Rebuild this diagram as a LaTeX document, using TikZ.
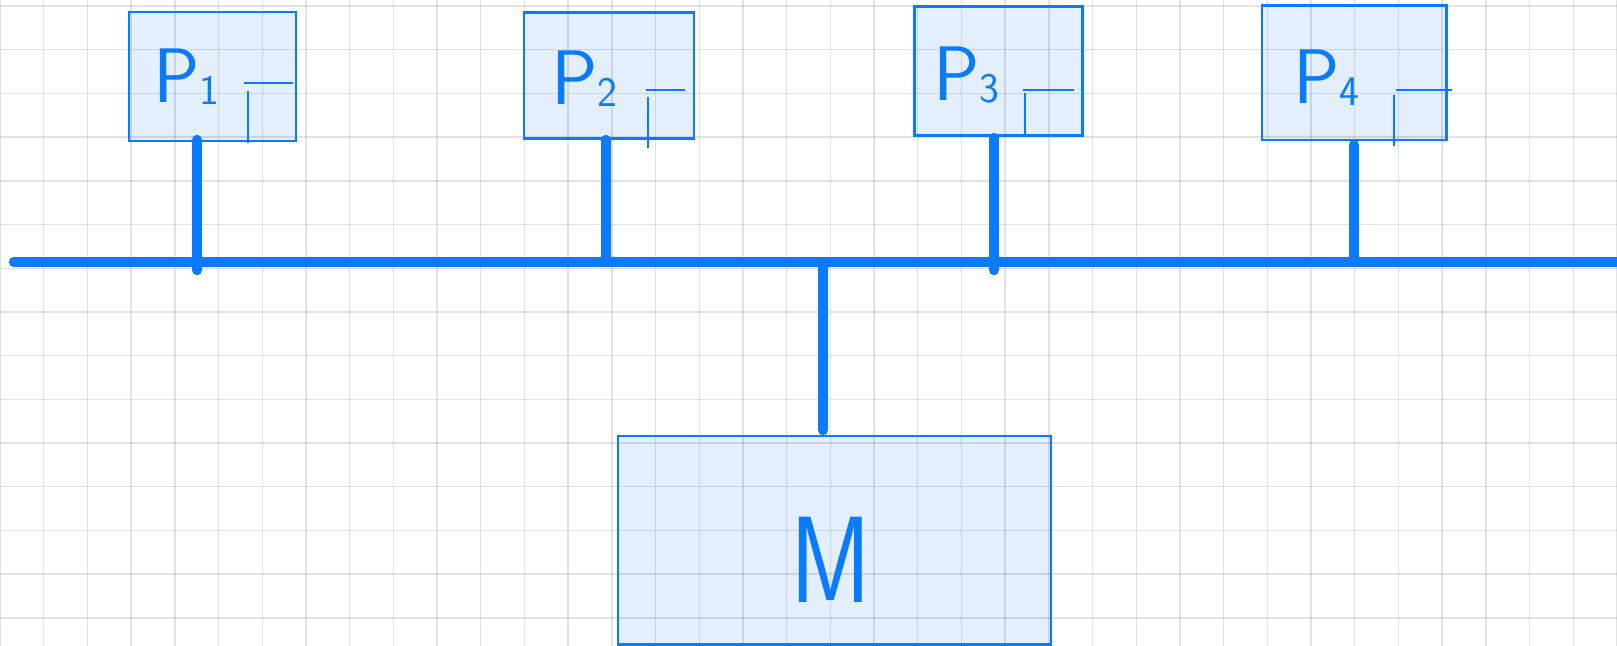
\documentclass[tikz,border=0pt]{standalone}
\usepackage{fontspec}
\definecolor{ink}{HTML}{0A7BFF}
\definecolor{cell}{HTML}{E3EFFD}
\newcommand\lblsub[1]{{\fontsize{24}{24}\selectfont\raisebox{-0.05cm}{#1}}}
\begin{document}
\begin{tikzpicture}[x=0.02cm,y=-0.02cm,
  wire/.style={draw=ink, line width=0.21cm, line cap=round},
  unitfill/.style={fill=cell, draw=none, rectangle, inner sep=0pt},
  border/.style={draw=ink, line width=0.045cm},
  tickmark/.style={draw=ink, line width=0.04cm},
  gridline/.style={draw=black, draw opacity=0.11, line width=0.028cm},
  lbl/.style={text=ink, inner sep=0pt, font=\sffamily\fontsize{44}{44}\selectfont},
  biglbl/.style={text=ink, inner sep=0pt, font=\sffamily\fontsize{70}{70}\selectfont},
]
\useasboundingbox[fill=white] (0,0) rectangle (1617,646);

% box fills
\node[unitfill, minimum width=3.34cm, minimum height=2.56cm] (p1) at (212.5,76.5) {};
\node[unitfill, minimum width=3.38cm, minimum height=2.51cm] (p2) at (609.2,75.5) {};
\node[unitfill, minimum width=3.35cm, minimum height=2.57cm] (p3) at (998.5,71) {};
\node[unitfill, minimum width=3.67cm, minimum height=2.67cm] (p4) at (1354.3,72.7) {};
\node[unitfill, minimum width=8.65cm, minimum height=4.15cm] (mem) at (834.5,540.3) {};

% squared paper
\foreach \i in {0,...,37} \draw[gridline] (\i*43.7,0) -- (\i*43.7,646);
\foreach \j in {0,...,14} \draw[gridline] (0,6+\j*43.7) -- (1617,6+\j*43.7);

% box outlines
\foreach \b in {p1,p2,p3,p4,mem}
  \draw[border] (\b.south west) rectangle (\b.north east);

% labels
\node[lbl, anchor=base west] (p1t) at (153,102) {P\lblsub{1}};
\node[lbl, anchor=base west] (p2t) at (551,104) {P\lblsub{2}};
\node[lbl, anchor=base west] (p3t) at (933,100) {P\lblsub{3}};
\node[lbl, anchor=base west] (p4t) at (1293,103) {P\lblsub{4}};
\node[biglbl] (memt) at (831,560) {\scalebox{0.8}[1]{M}};

% small corner marks
\draw[tickmark] (244,83) -- (293,83);
\draw[tickmark] (248,91) -- (248,143);
\draw[tickmark] (646,90) -- (685,90);
\draw[tickmark] (648,97) -- (648,148);
\draw[tickmark] (1023,90) -- (1074,90);
\draw[tickmark] (1025,93) -- (1025,137);
\draw[tickmark] (1396,90) -- (1452,90);
\draw[tickmark] (1394,95) -- (1394,146);

% bus and taps
\coordinate (busL) at (14,262);
\coordinate (busR) at (1630,262);
\coordinate (t1a) at (197,140);  \coordinate (t1b) at (197,270);
\coordinate (t2a) at (606,140);  \coordinate (t2b) at (606,262);
\coordinate (t3a) at (994,138);  \coordinate (t3b) at (994,270);
\coordinate (t4a) at (1354,145); \coordinate (t4b) at (1354,262);
\coordinate (tma) at (823,262);  \coordinate (tmb) at (823,430);

\draw[wire] (busL) -- (busR);
\draw[wire] (t1a) -- (t1b);
\draw[wire] (t2a) -- (t2b);
\draw[wire] (t3a) -- (t3b);
\draw[wire] (t4a) -- (t4b);
\draw[wire] (tma) -- (tmb);
\end{tikzpicture}
\end{document}
